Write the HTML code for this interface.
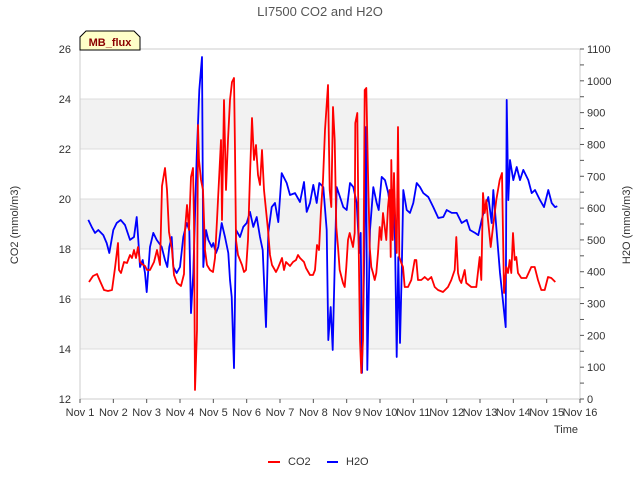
<!DOCTYPE html>
<html><head><meta charset="utf-8"><style>
body{margin:0;background:#fff;}
svg text{font-family:"Liberation Sans","DejaVu Sans",sans-serif;}
</style></head><body>
<svg id="chart" width="640" height="480" viewBox="0 0 640 480">
<g id="bg"></g><g id="series"></g><g id="axes"></g>
</svg>
<script>
const co2Days=[1.27,1.39,1.51,1.6,1.72,1.84,1.96,2.05,2.14,2.17,2.23,2.32,2.41,2.5,2.56,2.62,2.68,2.74,2.8,2.86,2.95,3.01,3.1,3.22,3.31,3.4,3.46,3.55,3.61,3.67,3.76,3.82,3.91,4.03,4.12,4.15,4.21,4.27,4.33,4.39,4.42,4.45,4.51,4.54,4.57,4.63,4.69,4.75,4.81,4.9,4.99,5.05,5.11,5.17,5.23,5.26,5.32,5.38,5.44,5.5,5.56,5.62,5.65,5.68,5.74,5.8,5.86,5.92,5.98,6.04,6.1,6.16,6.22,6.28,6.34,6.4,6.46,6.52,6.58,6.64,6.7,6.76,6.88,6.94,7.06,7.12,7.18,7.3,7.39,7.48,7.54,7.6,7.72,7.78,7.9,7.99,8.05,8.11,8.17,8.23,8.29,8.35,8.44,8.49,8.54,8.59,8.64,8.69,8.74,8.79,8.89,8.94,8.99,9.04,9.09,9.14,9.19,9.24,9.26,9.32,9.36,9.4,9.44,9.49,9.54,9.59,9.64,9.69,9.74,9.79,9.84,9.89,9.94,9.99,10.04,10.09,10.14,10.19,10.24,10.29,10.32,10.34,10.38,10.42,10.46,10.5,10.54,10.58,10.64,10.69,10.74,10.84,10.94,11.04,11.09,11.14,11.24,11.34,11.44,11.54,11.64,11.74,11.89,12.04,12.14,12.24,12.29,12.34,12.39,12.44,12.54,12.59,12.74,12.89,12.99,13.04,13.09,13.14,13.19,13.24,13.32,13.39,13.49,13.59,13.66,13.72,13.79,13.84,13.89,13.94,13.99,14.04,14.09,14.14,14.24,14.39,14.54,14.64,14.74,14.84,14.94,15.04,15.14,15.26];
const co2Values=[16.68,16.92,17.0,16.72,16.36,16.32,16.36,17.24,18.24,17.16,17.04,17.48,17.44,17.76,17.64,17.96,17.64,18.08,17.48,17.4,17.32,17.16,17.16,17.48,17.96,17.36,20.52,21.24,20.36,18.68,17.96,16.96,16.64,16.52,17.0,18.76,19.76,18.76,20.88,21.24,19.16,12.36,14.76,22.96,21.56,20.76,20.36,17.96,17.36,17.16,17.08,17.64,19.16,20.76,22.36,19.16,23.96,20.36,22.36,23.96,24.68,24.84,21.96,18.36,17.76,17.56,17.36,17.08,17.16,18.36,20.96,23.24,21.56,22.16,20.96,20.56,21.96,20.36,19.56,18.76,17.76,17.36,17.08,17.24,17.64,17.16,17.48,17.32,17.48,17.56,17.76,17.64,17.48,17.24,16.96,16.96,17.16,18.16,17.96,19.56,20.76,22.76,24.56,20.36,19.68,23.68,22.36,18.88,18.08,17.16,16.64,16.48,17.28,18.36,18.64,18.36,18.08,18.64,23.04,23.44,18.08,14.36,13.04,14.36,24.36,24.44,21.04,18.08,17.28,17.04,16.76,17.04,17.84,18.88,18.36,19.44,18.88,18.36,19.68,20.36,17.68,21.56,18.36,21.04,19.04,17.84,22.88,17.68,17.44,17.28,16.48,16.48,16.76,17.56,17.56,16.76,16.76,16.88,16.76,16.88,16.48,16.36,16.28,16.48,16.76,17.16,18.48,17.04,16.76,16.64,17.16,16.64,16.48,16.48,17.68,16.76,20.24,19.44,19.96,19.16,18.08,18.88,19.96,20.76,21.04,16.24,17.28,17.04,17.56,17.04,18.64,17.56,17.68,17.04,16.84,16.84,17.28,17.28,16.76,16.36,16.36,16.88,16.84,16.68];
const h2oDays=[1.25,1.35,1.45,1.55,1.70,1.80,1.88,2.0,2.10,2.22,2.35,2.5,2.62,2.70,2.75,2.8,2.88,2.95,3.0,3.1,3.2,3.3,3.45,3.55,3.62,3.68,3.75,3.8,3.9,4.0,4.1,4.2,4.28,4.33,4.4,4.5,4.58,4.66,4.7,4.78,4.85,4.95,5.0,5.08,5.15,5.25,5.35,5.45,5.5,5.55,5.62,5.68,5.8,5.9,6.0,6.1,6.2,6.3,6.4,6.48,6.58,6.65,6.75,6.85,6.95,7.05,7.2,7.3,7.45,7.6,7.72,7.8,7.9,8.0,8.1,8.18,8.3,8.4,8.45,8.52,8.58,8.65,8.7,8.8,8.9,9.0,9.1,9.2,9.3,9.38,9.42,9.46,9.52,9.58,9.62,9.7,9.8,9.9,9.96,10.05,10.15,10.25,10.3,10.38,10.45,10.5,10.55,10.6,10.65,10.7,10.8,10.9,11.0,11.1,11.2,11.3,11.45,11.6,11.75,11.9,12.0,12.15,12.3,12.45,12.6,12.7,12.85,12.95,13.05,13.15,13.25,13.35,13.4,13.6,13.77,13.8,13.85,13.9,14.0,14.1,14.2,14.3,14.45,14.55,14.65,14.8,14.92,15.05,15.15,15.25,15.32];
const h2oValues=[563,541,522,531,515,490,459,531,553,563,547,500,509,572,500,415,437,396,336,478,522,500,478,437,415,478,509,415,396,415,509,553,531,270,396,761,971,1075,415,531,500,478,490,459,478,553,509,459,374,321,97,531,509,541,553,588,541,572,509,468,226,522,603,616,556,710,679,641,647,619,682,588,616,673,616,679,666,531,185,289,154,459,666,635,603,594,679,666,616,459,522,82,396,855,91,531,666,616,594,698,688,647,603,657,500,132,446,176,396,657,594,585,616,679,666,647,635,603,569,572,594,585,585,553,563,531,522,515,563,603,635,553,657,396,226,940,625,751,688,729,688,720,688,647,657,625,603,657,616,603,606];
const xTickLabels=["Nov 1","Nov 2","Nov 3","Nov 4","Nov 5","Nov 6","Nov 7","Nov 8","Nov 9","Nov 10","Nov 11","Nov 12","Nov 13","Nov 14","Nov 15","Nov 16"];
const leftTicks=[12,14,16,18,20,22,24,26];
const rightTicks=[0,100,200,300,400,500,600,700,800,900,1000,1100];

const NS="http://www.w3.org/2000/svg";
const X0=80,X1=580,Y0=49,Y1=399;
const xS=d=>X0+(d-1)*(X1-X0)/15;
const yL=v=>Y1-(v-12)*(Y1-Y0)/14;
const yR=v=>Y1-v*(Y1-Y0)/1100;
function mk(tag,attrs,parent,text){const e=document.createElementNS(NS,tag);for(const k in attrs)e.setAttribute(k,attrs[k]);if(text!==undefined)e.textContent=text;parent.appendChild(e);return e;}
const bg=document.getElementById('bg'),ser=document.getElementById('series'),ax=document.getElementById('axes');

mk('rect',{x:X0,y:Y0,width:X1-X0,height:Y1-Y0,fill:'#fff'},bg);
[[22,24],[18,20],[14,16]].forEach(b=>{const r=mk('rect',{x:X0,y:yL(b[1]),width:X1-X0,height:yL(b[0])-yL(b[1]),fill:'#f2f2f2'},bg);

});
leftTicks.forEach(v=>{const l=mk('line',{x1:X0,x2:X1,y1:yL(v),y2:yL(v),stroke:'#dcdcdc','stroke-width':1},bg);

});

function line(days,vals,ys,color,name){const pts=days.map((d,i)=>xS(d).toFixed(1)+','+ys(vals[i]).toFixed(1)).join(' ');
const p=mk('polyline',{points:pts,fill:'none',stroke:color,'stroke-width':1.8,'stroke-linejoin':'round'},ser);

}
line(h2oDays,h2oValues,yR,'#0000ff','h2o-line');
line(co2Days,co2Values,yL,'#ff0000','co2-line');

mk('rect',{x:X0,y:Y0,width:X1-X0,height:Y1-Y0,fill:'none',stroke:'#cccccc'},ax);
xTickLabels.forEach((t,i)=>{const x=xS(i+1);mk('line',{x1:x,x2:x,y1:Y1,y2:Y1+4,stroke:'#555'},ax);
const e=mk('text',{x:x,y:Y1+17,'text-anchor':'middle','font-size':11,fill:'#333'},ax,t);

});
leftTicks.forEach(v=>{const e=mk('text',{x:71,y:yL(v)+4,'text-anchor':'end','font-size':11,fill:'#333'},ax,v);

});
for(let v=0;v<=1100;v+=50){const y=yR(v);mk('line',{x1:X1,x2:X1+4,y1:y,y2:y,stroke:'#555'},ax);}
rightTicks.forEach(v=>{const e=mk('text',{x:587,y:yR(v)+4,'font-size':11,fill:'#333'},ax,v);

});
</script>
<svg width="640" height="480" style="position:absolute;left:0;top:0">
<text x="320" y="16" text-anchor="middle" font-size="13" fill="#555">LI7500 CO2 and H2O</text>
<g>
<path d="M80,50 L80,37 L86,31 L134,31 L140,37 L140,50 Z" fill="#ffffc8" stroke="#000" stroke-width="1"/>
<text x="110" y="46" text-anchor="middle" font-size="11" font-weight="bold" fill="#8b0000">MB_flux</text></g>
<text transform="translate(18,225) rotate(-90)" text-anchor="middle" font-size="11" fill="#333">CO2 (mmol/m3)</text>
<text transform="translate(630,225) rotate(-90)" text-anchor="middle" font-size="11" fill="#333">H2O (mmol/m3)</text>
<text x="566" y="433" text-anchor="middle" font-size="11" fill="#333">Time</text>
<g><line x1="268" x2="280" y1="462" y2="462" stroke="#ff0000" stroke-width="2"/><text x="288" y="465" font-size="11" fill="#333">CO2</text></g>
<g><line x1="327" x2="338" y1="462" y2="462" stroke="#0000ff" stroke-width="2"/><text x="346" y="465" font-size="11" fill="#333">H2O</text></g>
</svg>
</body></html>
